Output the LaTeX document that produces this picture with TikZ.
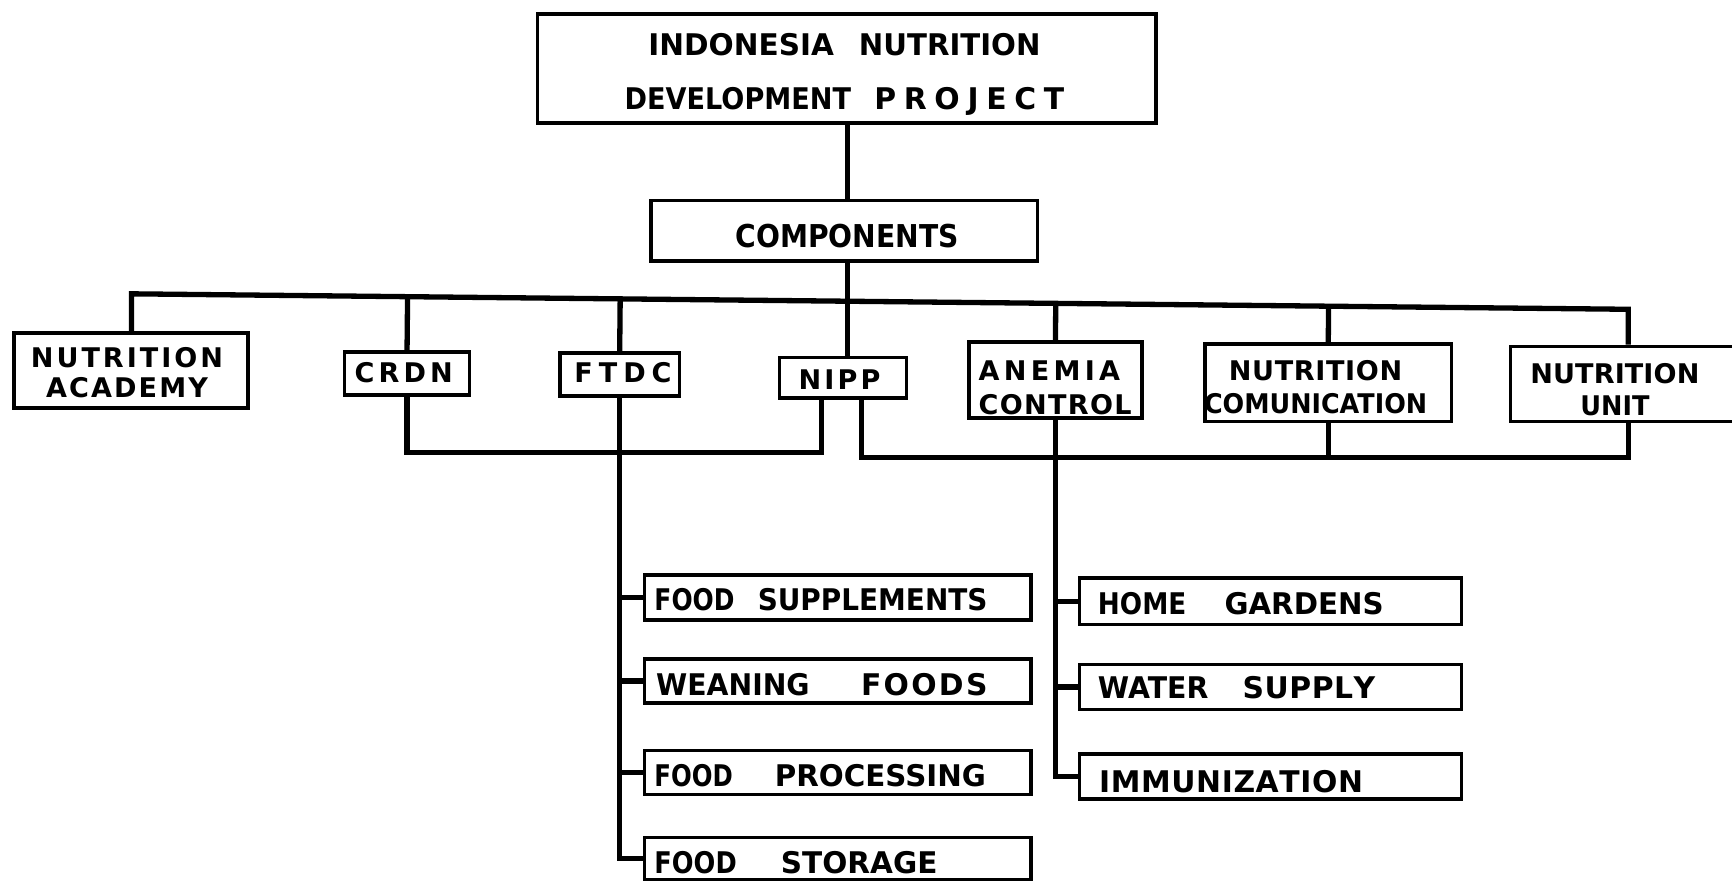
\documentclass[tikz,border=0pt]{standalone}
\usepackage{fontspec}
\setmainfont{DejaVu Sans}
\usepackage{graphicx}
\usetikzlibrary{calc}
\newlength\fitlen
\newcommand\fitlbl[2]{\settowidth\fitlen{#2}\ifdim\fitlen>#1pt\relax\resizebox{#1pt}{\height}{#2}\else\makebox[#1pt][s]{\fitA#2\relax}\fi}
\def\fitA#1{#1\fitB}
\def\fitB#1{\ifx#1\relax\else\hfil#1\expandafter\fitB\fi}
\newcommand\fbig{\fontsize{27pt}{32pt}\selectfont\bfseries}
\tikzset{
  box/.style={draw, line width=3.2pt, inner sep=0pt},
  conn/.style={line width=4.8pt, line join=miter, line cap=butt},
  txt/.style={inner sep=0pt, outer sep=0pt, text depth=0pt},
  rowtxt/.style={txt, font=\fontsize{24.5pt}{27pt}\selectfont\bfseries},
  foodtxt/.style={txt, anchor=west, font=\fbig}
}
\begin{document}
\begin{tikzpicture}[x=1pt,y=-1pt]
\useasboundingbox (0,0) rectangle (1568,798);
\fill[white] (0,0) rectangle (1568,798);
\clip (0,0) rectangle (1568,798);

% boxes
\node[box, minimum width=560pt, minimum height=99pt] (top) at (766.5,62) {};
\node[box, minimum width=350pt, minimum height=55pt] (comp) at (764.4,209) {};
\node[box, minimum width=212pt, minimum height=68pt] (acad) at (118.5,335.5) {};
\node[box, minimum width=113pt, minimum height=39pt] (crdn) at (368.5,338) {};
\node[box, minimum width=108pt, minimum height=39pt] (ftdc) at (561,339) {};
\node[box, minimum width=115pt, minimum height=37pt] (nipp) at (763,342) {};
\node[box, minimum width=157pt, minimum height=69pt] (anem) at (955.5,344) {};
\node[box, minimum width=223pt, minimum height=70pt] (nc) at (1202.5,346.5) {};
\node[box, minimum width=207pt, minimum height=68pt] (nu) at (1471,347.5) {};

\node[box, minimum width=350pt, minimum height=41pt] (fs) at (758.5,541) {};
\node[box, minimum width=350pt, minimum height=40pt] (wf) at (758.5,616.5) {};
\node[box, minimum width=350pt, minimum height=40pt] (fp) at (758.5,699.3) {};
\node[box, minimum width=350pt, minimum height=38pt] (fst) at (758.5,777) {};
\node[box, minimum width=346pt, minimum height=42pt] (hg) at (1150.3,544.5) {};
\node[box, minimum width=346pt, minimum height=41pt] (ws) at (1150.3,622) {};
\node[box, minimum width=346pt, minimum height=41pt] (im) at (1150.3,703) {};

% texts
\node[txt, align=center, font=\fontsize{27pt}{49.3pt}\selectfont\bfseries] (topt) at (764.5,64.7)
  {\fitlbl{168}{INDONESIA}\hspace{22.6pt}\fitlbl{164.4}{NUTRITION}\\\fitlbl{205}{DEVELOPMENT}\hspace{21pt}\fitlbl{172}{PROJECT}};
\node[txt, font=\fontsize{28.5pt}{34pt}\selectfont\bfseries] (compt) at (767,213.4) {\fitlbl{202}{COMPONENTS}};
\node[rowtxt, align=center] (acadt) at (115,337) {\fitlbl{174}{NUTRITION}\\\fitlbl{146.5}{ACADEMY}};
\node[rowtxt] (crdnt) at (365.5,337.2) {\fitlbl{89}{CRDN}};
\node[rowtxt] (ftdct) at (564,337.5) {\fitlbl{88}{FTDC}};
\node[rowtxt] (nippt) at (760,344) {\fitlbl{74}{NIPP}};
\node[rowtxt, align=left, font=\fontsize{24.5pt}{30.3pt}\selectfont\bfseries] (anemt) at (955.3,350.9) {\fitlbl{128}{ANEMIA}\\\fitlbl{138.5}{CONTROL}};
\node[rowtxt, align=center, font=\fontsize{24.5pt}{29.5pt}\selectfont\bfseries] (nct) at (1191,350.3) {\fitlbl{157}{NUTRITION}\\\fitlbl{202}{COMUNICATION}};
\node[rowtxt, align=center, font=\fontsize{24.5pt}{29pt}\selectfont\bfseries] (nut) at (1462,352.5) {\fitlbl{153}{NUTRITION}\\\fitlbl{62.6}{UNIT}};

\node[foodtxt] (fst1) at (592.5,542.4) {\fitlbl{72.5}{FOOD}\hspace{21pt}\fitlbl{208}{SUPPLEMENTS}};
\node[foodtxt] (wft) at (594,619.4) {\fitlbl{139}{WEANING}\hspace{46.5pt}\fitlbl{114.5}{FOODS}};
\node[foodtxt] (fpt) at (592.5,702.4) {\fitlbl{71}{FOOD}\hspace{38pt}\fitlbl{191}{PROCESSING}};
\node[foodtxt] (fstt) at (592.5,780.8) {\fitlbl{74.5}{FOOD}\hspace{40pt}\fitlbl{141.7}{STORAGE}};
\node[foodtxt] (hgt) at (994,546) {\fitlbl{80}{HOME}\hspace{34.6pt}\fitlbl{144}{GARDENS}};
\node[foodtxt] (wst) at (994,622.4) {\fitlbl{100}{WATER}\hspace{31pt}\fitlbl{120}{SUPPLY}};
\node[foodtxt] (imt) at (995,707) {\fitlbl{239}{IMMUNIZATION}};

% connectors
\coordinate (busL) at (119,266);
\coordinate (busR) at (1474,280);
\coordinate (vx) at (767,0);
\coordinate (l1) at (0,409.5);
\coordinate (l2) at (0,414);
\coordinate (nl) at (744,0);
\coordinate (nr) at (780,0);

\draw[conn] (acad.north -| busL) -- (busL) -- (busR) -- (nu.north -| busR);
\draw[conn] (top.south -| vx) -- (comp.north -| vx);
\draw[conn] (comp.south -| vx) -- (nipp.north -| vx);
\foreach \n in {crdn,ftdc,anem,nc}
  \draw[conn] ($(busL)!(\n.north)!(busR)$) -- (\n.north);

\draw[conn] (crdn.south) -- (crdn.south |- l1) -- (nl |- l1) -- (nl |- nipp.south);
\draw[conn] (nr |- nipp.south) -- (nr |- l2) -- (busR |- l2) -- (busR |- nu.south);
\draw[conn] (nc.south) -- (nc.south |- l2);

\draw[conn] (ftdc.south) -- (ftdc.south |- fst.west) -- (fst.west);
\foreach \n in {fs,wf,fp}
  \draw[conn] (ftdc.south |- \n.west) -- (\n.west);
\draw[conn] (anem.south) -- (anem.south |- im.west) -- (im.west);
\foreach \n in {hg,ws}
  \draw[conn] (anem.south |- \n.west) -- (\n.west);
\end{tikzpicture}
\end{document}
